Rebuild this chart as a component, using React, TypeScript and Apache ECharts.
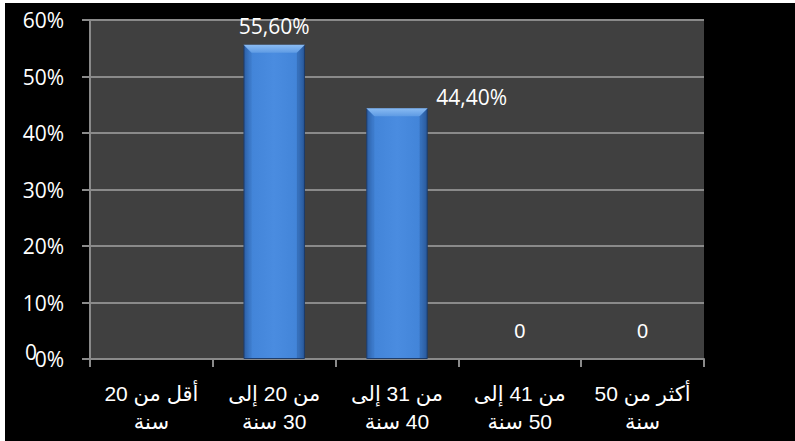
import React, { useEffect, useRef } from "react";
import * as echarts from "echarts";

const RLM = "\u200F";
const categories = [
  "أقل من 20\nسنة",
  "من 20 إلى\n" + RLM + "30 سنة",
  "من 31 إلى\n" + RLM + "40 سنة",
  "من 41 إلى\n" + RLM + "50 سنة",
  "أكثر من 50\nسنة",
];
const values: (number | null)[] = [null, 55.6, 44.4, 0, 0];
const valueLabels = ["", "55,60%", "44,40%", "0", "0"];
const yMin = 0;
const yMax = 60;
const yInterval = 10;

export default function App() {
  const ref = useRef<HTMLDivElement>(null);
  useEffect(() => {
    if (!ref.current) return;
    const chart = echarts.init(ref.current, undefined, { renderer: "svg" });
    const barColor = new echarts.graphic.LinearGradient(0, 0, 1, 0, [
      { offset: 0, color: "#3065ad" },
      { offset: 0.1, color: "#4284d8" },
      { offset: 0.5, color: "#4a8ce0" },
      { offset: 0.9, color: "#4284d8" },
      { offset: 1, color: "#3065ad" },
    ]);
    const data = values.map((v, i) => {
      const lbl = valueLabels[i];
      const base: any = { value: v };
      if (v === null) return base;
      if (v === 0) {
        base.label = {
          show: true,
          position: "top",
          distance: 18,
          formatter: lbl,
          color: "#ffffff",
          fontFamily: "Liberation Sans, DejaVu Sans, Arial, sans-serif",
          fontSize: 20,
        };
        base.itemStyle = { borderWidth: 0 };
      } else if (i === 2) {
        base.label = {
          show: true,
          position: [70, -11],
          align: "left",
          verticalAlign: "middle",
          formatter: lbl,
          color: "#ffffff",
          fontFamily: "Open Sans, sans-serif",
          fontSize: 21,
        };
      } else {
        base.label = {
          show: true,
          position: "top",
          distance: 8,
          formatter: lbl,
          color: "#ffffff",
          fontFamily: "Open Sans, sans-serif",
          fontSize: 21,
        };
      }
      return base;
    });
    const bevelData = values.map((v, i) => [i, v === null ? 0 : v]);
    chart.setOption({
      animation: false,
      backgroundColor: "#000000",
      grid: { left: 85, top: 17, width: 614, height: 339, show: true, backgroundColor: "#404040", borderWidth: 0 },
      xAxis: {
        type: "category",
        data: categories,
        axisLine: { show: true, lineStyle: { color: "#8a8a8a", width: 2 } },
        axisTick: { show: true, length: 8, alignWithLabel: false, lineStyle: { color: "#8a8a8a", width: 2 } },
        axisLabel: {
          color: "#ffffff",
          fontFamily: "Liberation Sans, DejaVu Sans, Arial, sans-serif",
          fontSize: 21,
          lineHeight: 28,
          margin: 20,
          interval: 0,
        },
        splitLine: { show: false },
      },
      yAxis: {
        type: "value",
        min: yMin,
        max: yMax,
        interval: yInterval,
        axisLine: { show: true, lineStyle: { color: "#8a8a8a", width: 2 } },
        axisTick: { show: true, length: 8, lineStyle: { color: "#8a8a8a", width: 2 } },
        axisLabel: {
          color: "#ffffff",
          fontFamily: "Open Sans, sans-serif",
          fontSize: 21,
          margin: 26,
          formatter: "{value}%",
        },
        splitLine: { show: true, lineStyle: { color: "#8a8a8a", width: 2 } },
      },
      graphic: [
        {
          type: "text",
          left: 20,
          top: 338,
          style: {
            text: "0",
            fill: "#ffffff",
            font: "21px 'Open Sans', sans-serif",
          },
        },
      ],
      series: [
        {
          type: "bar",
          data,
          barWidth: "50%",
          itemStyle: { color: barColor, borderColor: "#1e3d6b", borderWidth: 1 },
        },
        {
          type: "custom",
          data: bevelData,
          silent: true,
          z: 3,
          renderItem: (params: any, api: any) => {
            const val = api.value(1);
            if (!val) return null;
            const top = api.coord([api.value(0), val]);
            const bottom = api.coord([api.value(0), 0]);
            const bw = api.size([1, 0])[0] * 0.5;
            const x0 = top[0] - bw / 2;
            const x1 = top[0] + bw / 2;
            const y0 = top[1];
            const y1 = bottom[1];
            const b = 8;
            return {
              type: "group",
              children: [
                {
                  type: "polygon",
                  shape: { points: [[x0, y0], [x1, y0], [x1 - b, y0 + b], [x0 + b, y0 + b]] },
                  style: {
                    fill: new echarts.graphic.LinearGradient(0, 0, 0, 1, [
                      { offset: 0, color: "#8bbcf3" },
                      { offset: 1, color: "#5e9be4" },
                    ]),
                  },
                },
                {
                  type: "polygon",
                  shape: { points: [[x0, y0], [x0 + b, y0 + b], [x0 + b, y1], [x0, y1]] },
                  style: { fill: "rgba(30,70,130,0.15)" },
                },
                {
                  type: "polygon",
                  shape: { points: [[x1, y0], [x1 - b, y0 + b], [x1 - b, y1], [x1, y1]] },
                  style: { fill: "rgba(20,50,100,0.25)" },
                },
              ],
            };
          },
        },
      ],
    });
    return () => chart.dispose();
  }, []);
  return (
    <div style={{ position: "fixed", left: 0, top: 0, width: 795, height: 441, background: "#ffffff" }}>
      <div ref={ref} style={{ position: "absolute", left: 5, top: 3, width: 790, height: 438 }} />
    </div>
  );
}
